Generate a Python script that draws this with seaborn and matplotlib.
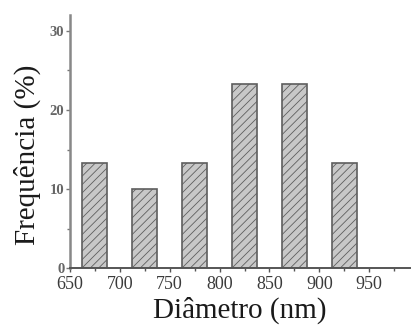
import matplotlib
matplotlib.use("Agg")
import matplotlib.pyplot as plt
import seaborn as sns
import pandas as pd
from matplotlib.ticker import MultipleLocator

# dados do histograma
diametro = [675, 725, 775, 825, 875, 925]
frequencia = [13.33, 10.0, 13.33, 23.33, 23.33, 13.33]

df = pd.DataFrame({"diametro": diametro, "frequencia": frequencia})

sns.set_style("ticks")
plt.rcParams["font.family"] = ["Liberation Serif", "DejaVu Serif"]
plt.rcParams["hatch.color"] = "#b8b8b8"
plt.rcParams["hatch.linewidth"] = 0.6

fig = plt.figure(figsize=(4.11, 3.29), dpi=100)
ax = fig.add_axes([0.170, 0.185, 0.828, 0.769])

sns.barplot(data=df, x="diametro", y="frequencia", native_scale=True,
            width=0.5, color="#c8c8c8", saturation=1, edgecolor="#5e5e5e",
            linewidth=1.2, hatch="////", ax=ax)

ax.set_xlim(650, 991)
ax.set_ylim(0, 32)
ax.xaxis.set_major_locator(MultipleLocator(50))
ax.xaxis.set_minor_locator(MultipleLocator(25))
ax.yaxis.set_major_locator(MultipleLocator(10))
ax.yaxis.set_minor_locator(MultipleLocator(5))

ax.tick_params(axis="x", which="major", length=3, width=1, color="#555555",
               labelsize=13, labelcolor="#3a3a3a", pad=3)
ax.tick_params(axis="x", which="minor", length=2, width=1, color="#555555")
ax.tick_params(axis="y", which="major", length=3, width=1, color="#777777",
               labelsize=10.5, labelcolor="#666666", pad=1)
ax.tick_params(axis="y", which="minor", length=2, width=1, color="#777777")
for lbl in ax.get_yticklabels():
    lbl.set_fontweight("bold")

sns.despine(ax=ax, top=True, right=True)
ax.spines["left"].set_color("#888888")
ax.spines["left"].set_linewidth(1.8)
ax.spines["bottom"].set_color("#555555")
ax.spines["bottom"].set_linewidth(1.4)

ax.set_xlabel("Diâmetro (nm)", fontsize=21, color="#1a1a1a", labelpad=2)
ax.set_ylabel("Frequência (%)", fontsize=21, color="#1a1a1a")
ax.yaxis.set_label_coords(-0.085, 0.447)

fig.savefig("out.png", dpi=100)
